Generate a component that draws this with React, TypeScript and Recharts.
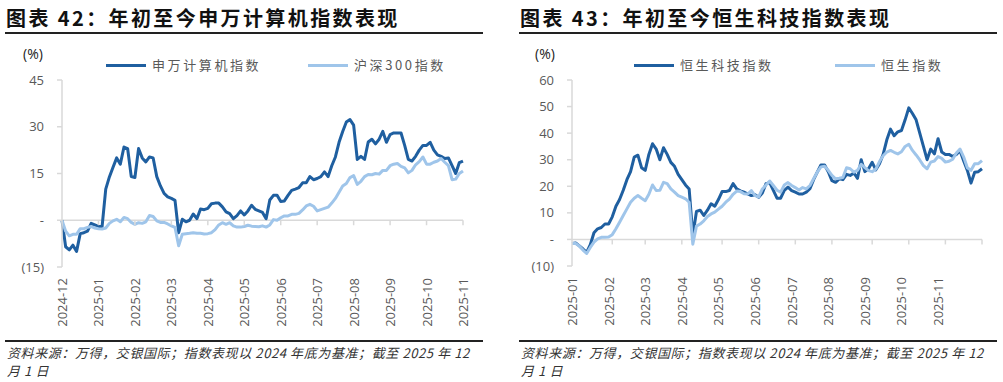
import React from 'react';
import { LineChart, Line, XAxis, YAxis, ReferenceLine, ReferenceDot } from 'recharts';

// ---------- Data ----------
const leftLabels = ['2024-12', '2025-01', '2025-02', '2025-03', '2025-04', '2025-05', '2025-06', '2025-07', '2025-08', '2025-09', '2025-10', '2025-11'];
const leftLabelPos = [0, 10, 20, 30, 40, 50, 60, 70, 80, 90, 100, 110];
const leftTickMarks = [10, 20, 30, 40, 50, 60, 70, 80, 90, 100, 110];

const rightLabels = ['2025-01', '2025-02', '2025-03', '2025-04', '2025-05', '2025-06', '2025-07', '2025-08', '2025-09', '2025-10', '2025-11'];
const rightLabelPos = [0, 10, 20, 30, 40, 50, 60, 70, 80, 90, 100];
const rightTickMarks = [11, 20, 30, 41, 51, 61, 71, 82, 92, 102, 112];

// 申万计算机指数 (%), one point per x step
const swComputer = [
  0, -8.5, -9.5, -8, -10, -4.3, -4, -3.5, -1, -1.5,
  -2, -2, 10, 13.9, 17, 20, 18, 23.5, 23, 14,
  13.7, 23, 20, 18.7, 20.3, 20, 14, 11, 8.6, 7.5,
  7.0, 6.4, -4, 0.3, -0.5, 0, 2.0, 0.5, 3.6, 3.4,
  3.8, 5.3, 5.5, 5.5, 4.3, 2.7, 2.1, 0.5, 1.5, 3.0,
  1.7, 3.0, 4.8, 3.5, 3.0, 2.5, 0.5, 6.5, 8, 8,
  6, 6.2, 8, 9.6, 10, 10.5, 12, 12, 14, 13,
  13.4, 14, 15.5, 14, 17.5, 20.3, 25, 28.5, 31.5, 32.3,
  30.5, 19.5, 20.5, 19.5, 25.1, 26, 24.5, 26, 28.5, 25,
  27.5, 28, 28, 28, 24, 19.5, 19, 20.5, 22.5, 24,
  24, 25, 22.5, 21, 20.5, 19.8, 20, 17.5, 15, 18.5,
  19,
];

// 沪深300指数 (%)
const csi300 = [
  0, -3.5, -5, -4.5, -4.5, -2.7, -2.7, -2.3, -2.0, -2.5,
  -2.7, -2.8, -2.5, -1, -0.2, 0.3, -0.5, 0.9, 0.5, -0.7,
  -1.3, -0.8, -1.0, -0.5, 1.5, 1.2, -0.2, -0.7, -0.7, -1.2,
  -1.8, -2.3, -8.2, -4.5, -4.3, -4.2, -4.0, -4.2, -4.2, -4.4,
  -4.3, -4.0, -3.0, -1.5, -0.8, -1.3, -0.8, -1.8, -2.2, -2.2,
  -2.0, -1.6, -1.9, -2.0, -2.1, -1.8, -2.2, -1.5, 0.2, 0,
  0.8, 1.4, 1.4, 1.9, 1.9, 2.2, 3.3, 4.6, 5.1, 4.5,
  3.0, 3.4, 3.8, 4.2, 5.5, 7, 9, 11, 11.8, 13.7,
  14.3, 11.5, 12.5, 14, 14.7, 14.6, 15.0, 14.8, 16.0, 16.0,
  17.5, 18, 18.2, 17.3, 16.8, 15.2, 16, 17.8, 18.8, 20.3,
  18, 18, 18.6, 19, 19.8, 18.6, 17.5, 13, 13.2, 15,
  15.8,
];

// 恒生科技指数 (%)
const hsTech = [
  -1.5, -1.3, -2.4, -3.6, -4.9, -2.0, 2.5, 4.0, 4.5, 5.8,
  5.8, 8.5, 12.5, 15, 18.5, 22.5, 25.5, 31, 31.7, 27,
  26, 32, 36, 34, 30, 34.5, 32, 29, 27.5, 24.5,
  22.5, 20.5, 19, 1.5, 10.5, 11, 9, 11, 13.4, 12.5,
  15, 18, 18, 18.4, 21, 19, 18.3, 17.8, 17.1, 16.5,
  16.8, 15.9, 17.5, 21, 21.4, 18.5, 15.5, 15.5, 18.5, 19.7,
  18.4, 17.8, 17.1, 17.1, 17.8, 19.1, 22.5, 25.3, 28, 28,
  25.5, 22.1, 21.5, 22.8, 22.5, 24.5, 24.1, 25.0, 23, 30,
  25.5, 26.6, 29, 26.2, 28.5, 32, 37.5, 41.5, 39, 40.5,
  41, 45, 49.5, 47.4, 45, 40, 35, 30, 34, 32.2,
  37.9, 32.9, 32, 32, 31.2, 32, 33.4, 29.5, 26, 21.2,
  25.3, 25.5, 26.6,
];

// 恒生指数 (%)
const hsi = [
  -1.5, -1.5, -2.5, -4.0, -5.3, -3.0, -1.0, 0.2, 0.8, 0.8,
  0.9, 1.8, 4.0, 6.5, 9.0, 11.5, 14.0, 15.5, 16.5, 15.5,
  14.6, 17, 20.5, 18.4, 18.5, 21.5, 21.0, 19.0, 17.8, 16.5,
  15.9, 15.3, 14, -1.8, 5.0, 5.8, 7.0, 8.6, 9.6, 10.3,
  11.4, 12.5, 14, 15.2, 17, 18.2, 18.0, 17.2, 17.1, 18.4,
  16.5, 16.0, 19.0, 20.5, 22, 20.3, 18.5, 17.8, 20.5, 21.4,
  20.3, 19.5, 18.6, 19.5, 19.0, 20.3, 22.8, 25.3, 27.3, 27.5,
  26, 24.1, 22.8, 23.0, 23.3, 27, 26.6, 25.3, 26, 28.3,
  27, 25.9, 25.5, 26.5, 29.3, 31.5, 32.9, 33.5, 32.8, 32.2,
  33.0, 35, 35.8, 33.5, 31.8, 29.9, 27.8, 26.6, 29.1, 29.5,
  31.2, 30.5, 29.1, 29.4, 30.2, 32.5, 34, 31, 27, 26,
  28.5, 28.5, 29.7,
];

const leftData = swComputer.map((v, i) => ({ i, a: v, b: csi300[i] }));
const rightData = hsTech.map((v, i) => ({ i, a: v, b: hsi[i] }));

// ---------- Styles ----------
const DARK = '#1F5FA0';
const LIGHT = '#9FC5EA';
const GRAY = '#595959';
const AXIS = '#D9D9D9';
const LATIN = '"Open Sans", "Noto Sans", sans-serif';
const CJK = '"Noto Sans CJK SC", "Noto Sans", sans-serif';

const fmtY = (v: number) => (v === 0 ? '-' : v < 0 ? `(${Math.abs(v)})` : `${v}`);

function makeTick(labels: string[], pos: number[]) {
  return (props: any) => {
    const { x, y, payload } = props;
    const idx = pos.indexOf(payload.value);
    const label = idx >= 0 ? labels[idx] : '';
    return (
      <text
        x={x}
        y={y}
        transform={`rotate(-90 ${x} ${y})`}
        textAnchor="end"
        dominantBaseline="central"
        fill={GRAY}
        fontSize={13}
        fontFamily={LATIN}
      >
        {label}
      </text>
    );
  };
}

const tickMarkShape = (p: any) => (
  <line x1={p.cx} y1={p.cy} x2={p.cx} y2={p.cy + 5} stroke={AXIS} strokeWidth={1.5} />
);

interface PanelProps {
  left: number;
  title: string;
  data: any[];
  xMax: number;
  labels: string[];
  labelPos: number[];
  tickMarks: number[];
  yDomain: [number, number];
  yTicks: number[];
  yWidth: number;
  marginRight: number;
  marginBottom: number;
  names: [string, string];
  legendX: [number, number];
  pctX: number;
}

function Panel(p: PanelProps) {
  return (
    <div style={{ position: 'absolute', left: p.left, top: 0, width: 500, height: 382 }}>
      <div
        style={{
          position: 'absolute',
          left: 6,
          top: 6,
          fontFamily: CJK,
          fontWeight: 700,
          fontSize: 20,
          lineHeight: '24px',
          letterSpacing: 2.4,
          color: '#111',
          whiteSpace: 'nowrap',
        }}
      >
        {p.title}
      </div>
      <div style={{ position: 'absolute', left: 5, top: 32, width: 478, height: 2, background: '#222' }} />
      <div
        style={{
          position: 'absolute',
          left: p.pctX,
          top: 44,
          fontFamily: LATIN,
          fontSize: 14,
          lineHeight: '20px',
          color: '#222',
        }}
      >
        (%)
      </div>
      {p.names.map((n, k) => (
        <div key={n} style={{ position: 'absolute', left: p.legendX[k], top: 55, height: 20, whiteSpace: 'nowrap' }}>
          <div
            style={{
              position: 'absolute',
              left: 0,
              top: 8.5,
              width: 40,
              height: 3.5,
              background: k === 0 ? DARK : LIGHT,
            }}
          />
          <div
            style={{
              position: 'absolute',
              left: 46,
              top: 0,
              fontFamily: CJK,
              fontSize: 13,
              lineHeight: '20px',
              letterSpacing: 2.6,
              color: GRAY,
            }}
          >
            {n}
          </div>
        </div>
      ))}
      <div style={{ position: 'absolute', left: 0, top: 0 }}>
        <LineChart
          width={500}
          height={382}
          data={p.data}
          margin={{ top: 80, right: p.marginRight, bottom: p.marginBottom, left: 0 }}
        >
          <XAxis
            dataKey="i"
            type="number"
            domain={[0, p.xMax]}
            ticks={p.labelPos}
            interval={0}
            height={60}
            axisLine={false}
            tickLine={false}
            tickSize={0}
            tickMargin={11}
            tick={makeTick(p.labels, p.labelPos)}
          />
          <YAxis
            width={p.yWidth}
            domain={p.yDomain}
            ticks={p.yTicks}
            interval={0}
            axisLine={{ stroke: AXIS, strokeWidth: 1.5 }}
            tickLine={{ stroke: AXIS, strokeWidth: 1.5 }}
            tickSize={5}
            tickMargin={13}
            tick={{ fill: GRAY, fontSize: 13, fontFamily: LATIN }}
            tickFormatter={fmtY}
          />
          <ReferenceLine y={0} stroke={AXIS} strokeWidth={1.5} />
          {p.tickMarks.map((t) => (
            <ReferenceDot key={t} x={t} y={0} r={0} shape={tickMarkShape} />
          ))}
          <Line
            type="linear"
            dataKey="a"
            stroke={DARK}
            strokeWidth={3}
            dot={false}
            isAnimationActive={false}
            strokeLinejoin="round"
          />
          <Line
            type="linear"
            dataKey="b"
            stroke={LIGHT}
            strokeWidth={3}
            dot={false}
            isAnimationActive={false}
            strokeLinejoin="round"
          />
        </LineChart>
      </div>
      <div style={{ position: 'absolute', left: 5, top: 340, width: 478, height: 2, background: '#222' }} />
      <div
        style={{
          position: 'absolute',
          left: 7,
          top: 344,
          width: 480,
          fontFamily: CJK,
          fontStyle: 'italic',
          fontSize: 13,
          lineHeight: '18px',
          letterSpacing: 0.6,
          color: '#333',
        }}
      >
        <div style={{ whiteSpace: 'nowrap' }}>资料来源：万得，交银国际；指数表现以 2024 年底为基准；截至 2025 年 12</div>
        <div>月 1 日</div>
      </div>
    </div>
  );
}

export default function App() {
  return (
    <div style={{ position: 'absolute', left: 0, top: 0, width: 1003, height: 382, background: '#fff', overflow: 'hidden' }}>
      <Panel
        left={0}
        title="图表 42：年初至今申万计算机指数表现"
        data={leftData}
        xMax={110}
        labels={leftLabels}
        labelPos={leftLabelPos}
        tickMarks={leftTickMarks}
        yDomain={[-15, 45]}
        yTicks={[-15, 0, 15, 30, 45]}
        yWidth={62}
        marginRight={37}
        marginBottom={55}
        names={['申万计算机指数', '沪深300指数']}
        legendX={[106, 308]}
        pctX={23}
      />
      <Panel
        left={514}
        title="图表 43：年初至今恒生科技指数表现"
        data={rightData}
        xMax={112}
        labels={rightLabels}
        labelPos={rightLabelPos}
        tickMarks={rightTickMarks}
        yDomain={[-10, 60]}
        yTicks={[-10, 0, 10, 20, 30, 40, 50, 60]}
        yWidth={58}
        marginRight={32}
        marginBottom={56}
        names={['恒生科技指数', '恒生指数']}
        legendX={[120, 321]}
        pctX={21}
      />
    </div>
  );
}
